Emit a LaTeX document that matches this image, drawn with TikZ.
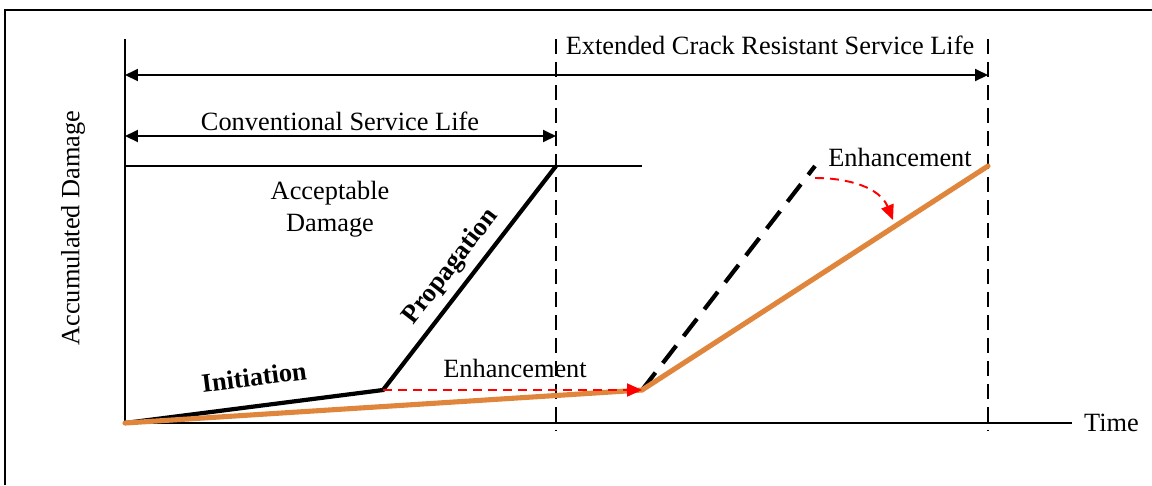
\documentclass[tikz,border=0pt]{standalone}
\usepackage{fontspec}
\setmainfont{Liberation Serif}
\usetikzlibrary{arrows.meta,calc}
\definecolor{crackorange}{RGB}{224,134,60}
\definecolor{enhred}{RGB}{255,0,0}

\begin{document}
\begin{tikzpicture}[x=0.02cm,y=-0.02cm,font=\fontsize{15}{18}\selectfont,
  axis/.style={line width=1.1pt},
  span/.style={line width=1.1pt,{Triangle[length=0.26cm,width=0.24cm]}-{Triangle[length=0.26cm,width=0.24cm]}},
  limit/.style={line width=1.3pt,dash pattern=on 0.3cm off 0.16cm},
  damage/.style={line width=2.4pt},
  enhanced/.style={line width=2.9pt,crackorange,line cap=round},
  enhshift/.style={enhred,line width=1.1pt,dash pattern=on 0.18cm off 0.12cm,-{Triangle[length=0.3cm,width=0.26cm]}}]
  \useasboundingbox (0,0) rectangle (1152,485);
  % frame
  \draw[line width=0.8pt] (5,485) -- (5,10) -- (1152,10);
  % key points
  \coordinate (o)  at (125,423);
  \coordinate (ini) at (383,390);
  \coordinate (crit) at (556,166);
  \coordinate (enh) at (642,390);
  \coordinate (ext) at (988,166);
  \coordinate (old) at (815,166);
  % axes
  \coordinate (ytop) at (125,39);
  \coordinate (xend) at (1072,423);
  \draw[axis] (ytop) -- (o) -- (xend);
  \node[anchor=west] (time) at (1078,423) {Time};
  \node[rotate=90] (acc) at (73,228) {Accumulated Damage};
  % service life limits
  \draw[limit] (556,39) -- (556,430);
  \draw[limit] (988,39) -- (988,430);
  \draw[span] (125,75) -- (988,75);
  \node (extlife) at (770,45) {Extended Crack Resistant Service Life};
  \draw[span] (125,136) -- (556,136);
  \node (convlife) at (340,121) {Conventional Service Life};
  % acceptable damage
  \draw[axis] (125,166) -- (642,166);
  \node[align=center] (accept) at (330,209) {Acceptable\\Damage};
  % conventional damage path
  \draw[damage] (o) -- (ini) -- (crit);
  \node[font=\fontsize{15}{18}\selectfont\bfseries,rotate=7.3] (initlbl) at (254,377) {Initiation};
  \node[font=\fontsize{15}{18}\selectfont\bfseries,rotate=52.3] (proplbl) at (451,267) {Propagation};
  % enhanced damage path
  \draw[damage,dash pattern=on 0.44cm off 0.24cm] (enh) -- (old);
  \draw[enhanced] (o) -- (enh) -- (ext);
  \draw[enhshift] (ini) -- (enh);
  \node (enh1) at (515,368) {Enhancement};
  \draw[enhshift] ($(old)+(0,12)$) to[out=0,in=112] (893,220);
  \node (enh2) at (900,157) {Enhancement};
\end{tikzpicture}
\end{document}
